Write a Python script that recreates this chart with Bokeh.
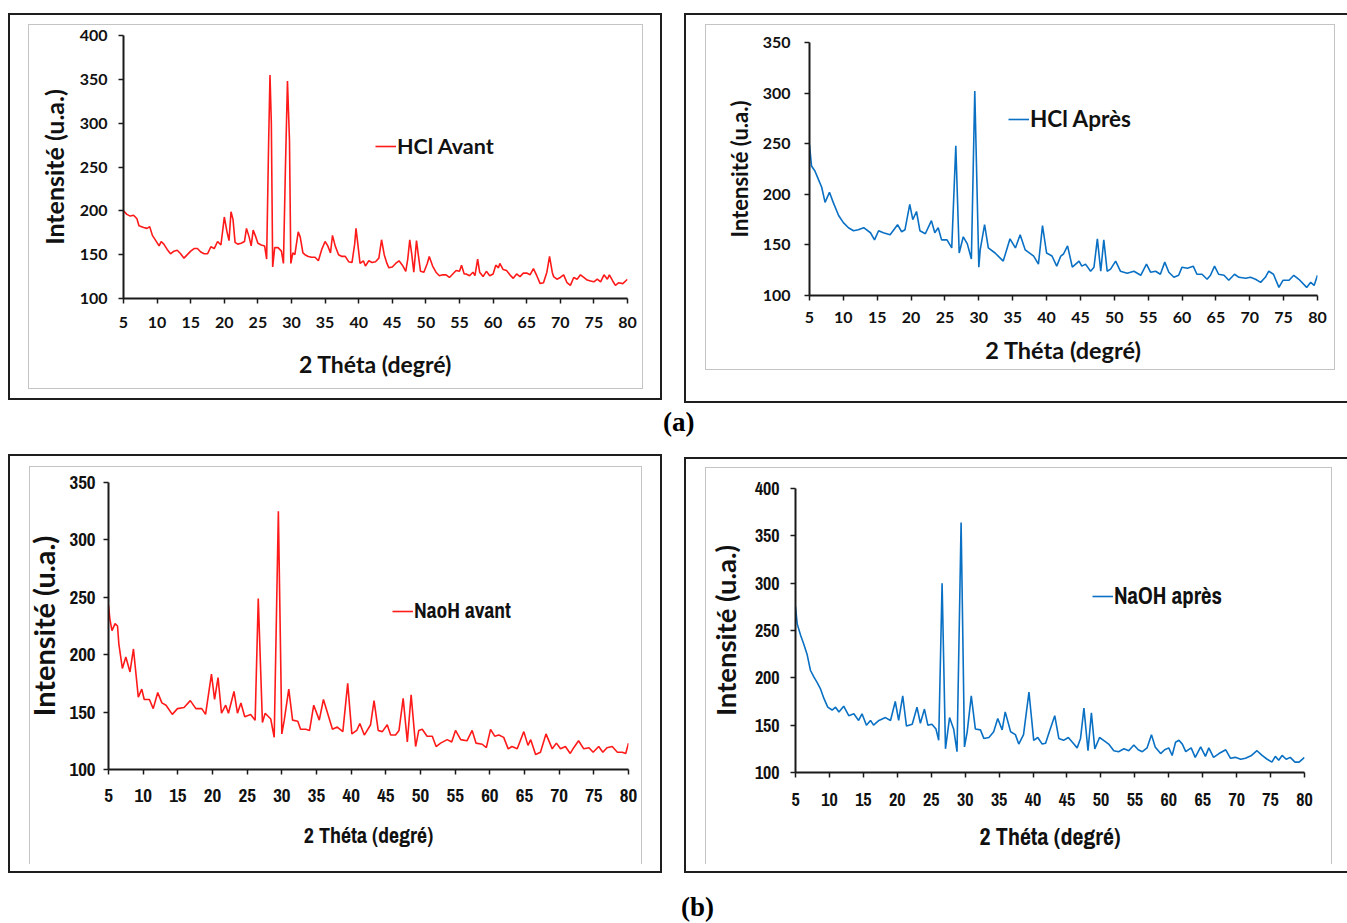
from bokeh.plotting import figure
from bokeh.models import Range1d, FixedTicker, Legend, LegendItem, Div
from bokeh.layouts import column
from bokeh.embed import file_html
from bokeh.resources import INLINE

# ---------------- data ----------------
x_ticks = [5, 10, 15, 20, 25, 30, 35, 40, 45, 50, 55, 60, 65, 70, 75, 80]

hcl_avant_x = [5.0,5.5,6.0,6.5,7.0,7.3,8.0,8.5,8.9,9.3,9.8,10.3,10.6,11.0,11.5,12.0,12.5,13.0,13.5,14.0,14.5,15.0,15.5,16.0,16.5,17.0,17.5,18.0,18.5,19.0,19.5,19.8,20.0,20.4,20.7,21.0,21.3,21.6,22.0,22.5,23.0,23.3,23.7,24.0,24.3,24.7,25.0,25.5,26.0,26.3,26.6,26.8,27.0,27.2,27.5,28.0,28.5,28.8,29.1,29.4,29.7,29.9,30.2,30.5,31.0,31.3,31.7,32.0,32.5,33.0,33.5,34.0,34.5,35.0,35.4,35.8,36.1,36.5,37.0,37.5,38.0,38.5,39.0,39.4,39.6,39.9,40.2,40.7,41.0,41.5,42.0,42.5,43.0,43.4,43.8,44.2,44.5,45.0,45.5,46.0,46.5,47.0,47.3,47.6,47.9,48.2,48.6,48.9,49.2,49.7,50.2,50.5,51.0,51.5,52.0,52.5,53.0,53.5,54.0,54.5,55.0,55.3,55.7,56.0,56.5,57.0,57.3,57.7,58.0,58.5,59.0,59.5,60.0,60.4,60.8,61.0,61.5,62.0,62.5,63.0,63.5,64.0,64.5,65.0,65.5,66.0,66.5,67.0,67.5,68.0,68.4,68.8,69.0,69.5,70.0,70.5,71.0,71.5,72.0,72.5,73.0,73.5,74.0,74.5,75.0,75.5,76.0,76.5,77.0,77.3,77.8,78.2,78.7,79.3,80.0]
hcl_avant_y = [200,196,194,195,191,183,181,180,182,172,166,160,165,162,156,151,154,155,151,146,150,154,157,157,153,151,151,159,157,165,161,180,193,176,166,199,190,164,162,163,165,180,170,160,178,170,163,161,160,145,280,355,300,136,158,158,154,140,250,348,280,140,152,150,176,170,152,150,148,147,147,143,156,165,160,152,172,160,150,148,148,142,141,162,180,160,140,143,137,143,141,142,146,167,150,140,135,136,140,143,138,131,145,167,150,130,166,148,131,130,140,148,137,130,126,127,127,124,128,132,131,138,128,128,126,130,126,145,130,125,131,126,128,138,135,140,133,132,127,123,128,125,129,129,127,134,126,117,118,130,148,130,125,122,124,127,118,115,124,122,127,124,121,120,119,122,119,127,122,127,120,115,118,117,122]

hcl_apres_x = [5.0,5.3,5.8,6.3,6.8,7.3,7.95,8.5,9.3,10.0,10.75,11.5,12.2,13.0,14.0,14.6,15.2,15.9,16.9,18.0,18.6,19.1,19.8,20.25,20.8,21.3,22.1,23.0,23.5,24.0,24.5,25.3,26.0,26.6,27.1,27.7,28.3,28.9,29.4,30.0,30.2,30.85,31.4,32.4,33.6,34.6,35.4,36.1,36.85,38.1,38.8,39.4,40.0,40.8,41.5,42.1,42.5,43.1,43.8,44.8,45.2,45.75,46.5,47.0,47.5,48.0,48.45,48.95,49.45,50.2,50.9,51.9,52.9,53.9,54.75,55.35,56.1,56.8,57.45,58.05,58.8,59.5,60.0,60.8,61.65,62.2,62.95,63.7,64.2,64.8,65.4,66.2,66.9,67.75,68.4,69.4,70.1,70.85,71.6,72.3,72.8,73.5,74.3,74.9,75.8,76.5,77.25,78.4,79.0,79.5,80.0]
hcl_apres_y = [249,228,223,215,207,192,202,192,179,172,167,164,165,167,162,155,164,162,160,170,163,165,190,175,183,164,161,174,162,167,155,155,147,248,142,158,151,136,302,128,145,170,147,142,134,156,147,160,145,139,131,169,142,139,129,139,141,149,128,134,129,131,124,128,156,124,155,124,126,134,124,122,124,120,131,123,124,121,133,123,118,120,128,127,129,121,121,116,120,129,121,120,115,121,118,117,118,116,113,118,124,121,108,115,115,120,116,108,113,110,120]

naoh_avant_x = [5.0,5.2,5.5,5.95,6.3,6.5,7.0,7.5,8.1,8.6,9.3,9.8,10.15,10.9,11.45,12.1,12.7,13.3,14.2,14.95,15.9,16.8,17.6,18.45,19.0,19.85,20.3,20.8,21.3,21.9,22.3,23.1,23.6,24.1,24.65,25.5,26.15,26.6,27.2,27.6,28.4,28.9,29.5,30.0,30.35,31.0,31.55,32.3,32.7,33.45,34.0,34.6,35.4,36.0,36.8,37.3,38.0,38.8,39.5,40.1,40.8,41.25,41.9,42.8,43.3,43.9,44.5,45.2,45.7,46.4,46.9,47.5,48.1,48.65,49.3,49.75,50.25,50.95,51.7,52.25,52.9,53.85,54.5,55.05,55.8,56.7,57.45,58.0,58.9,59.5,60.1,60.7,61.3,62.0,62.65,63.2,63.95,64.9,65.5,65.9,66.6,67.3,68.1,69.0,69.6,70.2,70.9,71.6,72.1,72.8,73.55,74.3,74.9,75.7,76.3,76.9,77.65,78.4,79.1,79.6,80.0]
naoh_avant_y = [243,231,221,227,225,209,188,198,185,205,163,170,161,161,153,167,158,156,148,153,154,160,153,153,148,183,161,180,149,156,149,168,149,158,146,148,143,249,141,149,144,128,325,131,143,170,143,142,135,135,134,156,143,161,145,135,137,133,175,131,134,140,130,139,160,134,133,139,130,130,134,162,124,165,120,134,135,129,129,120,123,126,124,134,126,125,134,123,122,119,135,129,130,128,118,120,118,133,121,126,113,115,131,118,123,118,120,114,119,125,118,119,115,120,115,119,120,115,115,114,123]

naoh_apres_x = [5.0,5.25,5.75,6.2,6.7,7.2,7.7,8.2,8.7,9.2,9.75,10.4,10.9,11.4,12.1,12.85,13.6,14.3,14.8,15.45,16.05,16.5,17.3,18.25,19.0,19.7,20.2,20.8,21.35,22.2,22.9,23.4,24.0,24.5,25.1,25.7,26.1,26.6,27.1,27.7,28.3,28.8,29.4,29.9,30.3,30.9,31.5,32.25,32.75,33.5,34.2,34.8,35.45,35.9,36.7,37.4,37.9,38.6,39.4,40.1,40.7,41.35,41.85,42.4,43.2,43.8,44.5,45.2,45.8,46.5,47.0,47.5,48.1,48.6,49.1,49.8,50.4,51.15,51.9,52.6,53.4,54.1,54.85,55.5,56.1,56.8,57.45,58.0,58.8,59.4,60.0,60.5,61.0,61.5,62.0,62.5,63.3,63.9,64.7,65.4,65.9,66.6,67.4,68.4,69.1,69.8,70.6,71.3,72.2,73.0,73.75,74.5,75.2,75.7,76.2,76.7,77.3,77.9,78.6,79.2,80.0]
naoh_apres_y = [275,257,245,236,225,208,201,195,188,178,169,166,169,164,170,160,162,155,162,150,155,150,155,158,155,175,155,181,149,151,169,152,167,150,151,146,134,300,125,158,146,122,364,127,143,181,146,145,136,137,143,157,145,164,143,140,130,140,185,134,137,130,131,143,160,136,134,137,132,126,136,168,123,163,125,137,134,130,123,122,125,123,129,124,122,126,140,127,120,124,126,118,132,134,130,122,126,116,127,117,126,116,120,124,115,116,114,115,118,123,118,114,111,117,113,118,114,116,111,111,116]

y_ticks_400 = [100, 150, 200, 250, 300, 350, 400]
y_ticks_350 = [100, 150, 200, 250, 300, 350]

RED = "#ff1a1a"
BLUE = "#0a70c4"
LATO = "Lato"
NARROW = "Archivo Narrow"
INK = "#111111"
LEFT_PAD = 130   # canvas space left of every frame (transparent)
RIGHT_PAD = 30


def panel(xs, ys, color, label, ymax, yticks, frame, canvas_tb, fonts, sizes, gaps, legend_loc):
    f_left, f_right, f_top, f_bottom = frame
    c_top, c_bottom = canvas_tb
    tick_font, ytitle_font, xtitle_font, leg_font = fonts
    tick_fs, ytitle_fs, xtitle_fs, leg_fs = sizes
    ytick_st, ytitle_st, xtick_st, xtitle_st = gaps
    left = f_left - LEFT_PAD
    w = f_right + RIGHT_PAD - left
    h = c_bottom - c_top
    p = figure(width=w, height=h, x_range=Range1d(5, 80), y_range=Range1d(100, ymax),
               output_backend="svg", toolbar_location=None,
               min_border_left=LEFT_PAD, min_border_right=RIGHT_PAD,
               min_border_top=f_top - c_top, min_border_bottom=c_bottom - f_bottom,
               x_axis_label="2 Théta (degré)", y_axis_label="Intensité (u.a.)")
    p.styles = {"position": "absolute", "left": f"{left}px", "top": f"{c_top}px"}
    p.border_fill_alpha = 0
    p.background_fill_alpha = 0
    r = p.line(xs, ys, line_color=color, line_width=1.6)
    p.xgrid.grid_line_color = None
    p.ygrid.grid_line_color = None
    p.outline_line_color = None
    p.xaxis.ticker = FixedTicker(ticks=x_ticks)
    p.yaxis.ticker = FixedTicker(ticks=yticks)
    for ax in (p.xaxis[0], p.yaxis[0]):
        ax.axis_line_color = "#1a1a1a"
        ax.axis_line_width = 2
        ax.major_tick_line_color = "#1a1a1a"
        ax.major_tick_line_width = 1.5
        ax.major_tick_out = 5
        ax.major_tick_in = 0
        ax.minor_tick_line_color = None
        ax.major_label_text_font = tick_font
        ax.major_label_text_font_style = "bold"
        ax.major_label_text_font_size = f"{tick_fs}px"
        ax.major_label_text_color = INK
        ax.axis_label_text_font_style = "bold"
        ax.axis_label_text_color = INK
    p.yaxis.axis_label_text_font = ytitle_font
    p.xaxis.axis_label_text_font = xtitle_font
    p.yaxis.major_label_standoff = ytick_st
    p.yaxis.axis_label_standoff = ytitle_st
    p.yaxis.axis_label_text_font_size = f"{ytitle_fs}px"
    p.xaxis.major_label_standoff = xtick_st
    p.xaxis.axis_label_standoff = xtitle_st
    p.xaxis.axis_label_text_font_size = f"{xtitle_fs}px"
    leg = Legend(items=[LegendItem(label=label, renderers=[r])], location=legend_loc,
                 border_line_color=None, background_fill_alpha=0, padding=0, margin=0,
                 spacing=0, label_standoff=1, glyph_width=21, glyph_height=20, label_height=20,
                 label_text_font=leg_font, label_text_font_style="bold",
                 label_text_font_size=f"{leg_fs}px", label_text_color=INK)
    p.add_layout(leg)
    return p


def box(left, top, w, h, border, extra=None):
    st = {"position": "absolute", "left": f"{left}px", "top": f"{top}px",
          "width": f"{w}px", "height": f"{h}px", "border": border,
          "box-sizing": "border-box"}
    if extra:
        st.update(extra)
    return Div(text="", width=w, height=h, margin=0, styles=st)


def tag(text, left, top):
    return Div(text=text, margin=0,
               styles={"position": "absolute", "left": f"{left}px", "top": f"{top}px",
                       "font-family": "Liberation Serif", "font-weight": "bold",
                       "font-size": "27px", "line-height": "30px", "color": "#000"})


BLACK = "2px solid #1e1e1e"
GREY = "1px solid #c4c4c4"

p1 = panel(hcl_avant_x, hcl_avant_y, RED, "HCl Avant", 400, y_ticks_400,
           (123, 627, 35, 298), (25, 387),
           (LATO, LATO, LATO, LATO), (16, 25, 23, 21.5), (11, 8, 13, 19), (252, 139))
p2 = panel(hcl_apres_x, hcl_apres_y, BLUE, "HCl Après", 350, y_ticks_350,
           (809, 1317, 42, 295), (25, 368),
           (LATO, LATO, LATO, LATO), (16, 22, 23.5, 22.5), (14, 7, 11, 10), (199, 163))
p3 = panel(naoh_avant_x, naoh_avant_y, RED, "NaoH avant", 350, y_ticks_350,
           (108, 628, 482, 769), (467, 863),
           (NARROW, LATO, NARROW, NARROW), (19, 29, 22, 21.5), (8, 6, 14, 15), (284, 144))
p4 = panel(naoh_apres_x, naoh_apres_y, BLUE, "NaOH après", 400, y_ticks_400,
           (795, 1304, 488, 772), (468, 863),
           (NARROW, LATO, NARROW, NARROW), (18, 27.5, 24, 23), (11, 10, 15, 11), (297, 161))

root = column(
    box(8, 13, 654, 387, BLACK),
    box(684, 13, 663, 390, BLACK, {"border-right": "none"}),
    box(8, 454, 654, 419, BLACK),
    box(684, 457, 663, 416, BLACK, {"border-right": "none"}),
    box(28, 24, 615, 365, GREY),
    box(705, 24, 630, 346, GREY),
    box(29, 466, 613, 398, GREY, {"border-bottom": "none"}),
    box(705, 467, 627, 397, GREY, {"border-bottom": "none"}),
    p1, p2, p3, p4,
    tag("(a)", 663, 407), tag("(b)", 681, 892),
    width=1347, height=923, styles={"position": "relative"})

open("out.html", "w").write(file_html(root, INLINE))
